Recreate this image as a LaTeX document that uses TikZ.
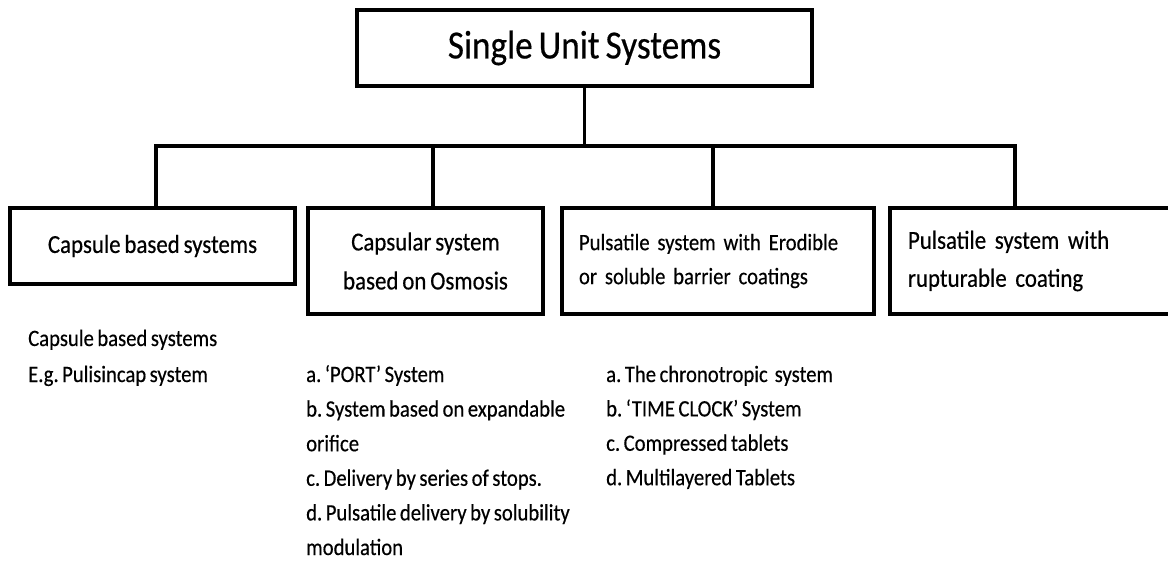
\documentclass[tikz,border=0pt]{standalone}
\usepackage{fontspec}
\setmainfont{Carlito}[FakeStretch=0.88, WordSpace=0.75, FakeBold=0.4]
\frenchspacing
\tikzset{
  unitbox/.style={draw, line width=3.8pt, rectangle, inner sep=0pt},
  link/.style={line width=3.2pt},
  listline/.style={anchor=base west, inner sep=0pt, font=\fontsize{23.5}{28}\selectfont}
}
\begin{document}
\begin{tikzpicture}[x=1pt,y=-1pt]
      \useasboundingbox (0,0) rectangle (1168,560);
      \clip (0,0) rectangle (1168,560);
      % top box and the four kinds
      \node[unitbox, minimum width=455pt, minimum height=76pt,
        font=\fontsize{40}{44}\selectfont] (single) at (584.5,48) {Single Unit Systems};
      \node[unitbox, minimum width=285pt, minimum height=76pt,
        font=\fontsize{26}{30}\selectfont] (capsule) at (152.5,246) {Capsule based systems};
      \node[unitbox, minimum width=235pt, minimum height=106pt, align=center,
        font=\fontsize{26}{39}\selectfont] (osmosis) at (425.5,261) {Capsular system\\based on Osmosis};
      \node[unitbox, text width=278pt, inner xsep=17pt, minimum height=106pt, align=left,
        font=\fontsize{23.5}{34}\selectfont] (erodible) at (718,261)
        {Pulsatile system with Erodible\\or soluble barrier coatings};
      \node[unitbox, text width=254pt, inner xsep=18pt, minimum height=106pt, align=left,
        font=\fontsize{26}{38}\selectfont] (rupture) at (1035,261)
        {Pulsatile system with\\rupturable coating};
      % tree lines
      \coordinate (bar) at (584.5,146);
      \draw[link] (single) -- (bar);
      \draw[link] ([xshift=3.5pt]capsule.north) |- (bar) -| ([xshift=-20pt]rupture.north);
      \draw[link] ([xshift=7.5pt]osmosis.north) -- ([xshift=7.5pt]osmosis.north |- bar);
      \draw[link] ([xshift=-5pt]erodible.north) -- ([xshift=-5pt]erodible.north |- bar);
      % examples under the boxes
      \foreach \t [count=\i from 0] in {Capsule based systems, E.g. Pulisincap system}
        \node[listline] (capex\i) at (28,346+36*\i) {\t};
      \foreach \t [count=\i from 0] in {a. ‘PORT’ System, b. System based on expandable,
          orifice, c. Delivery by series of stops., d. Pulsatile delivery by solubility, modulation}
        \node[listline] (osmex\i) at (306,382+34.6*\i) {\t};
      \foreach \t [count=\i from 0] in {a. The chronotropic\ \ system, b. ‘TIME CLOCK’ System,
          c. Compressed tablets, d. Multilayered Tablets}
        \node[listline] (eroex\i) at (606,382+34.4*\i) {\t};
    \end{tikzpicture}
\end{document}
